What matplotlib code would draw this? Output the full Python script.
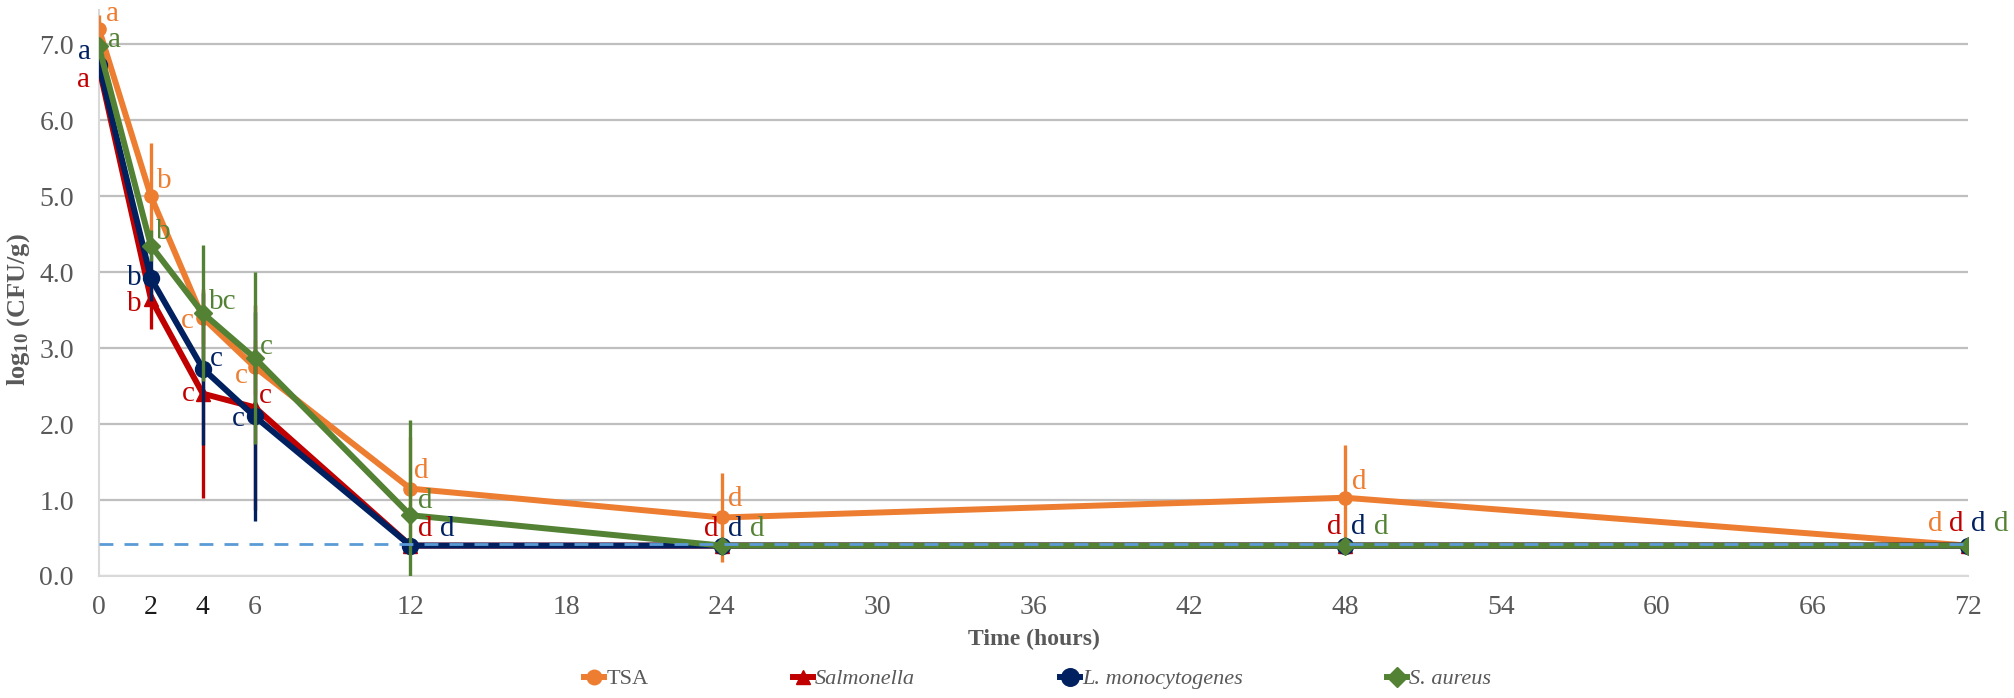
import matplotlib
matplotlib.use("Agg")
import matplotlib.pyplot as plt
from matplotlib.lines import Line2D

# ── Data ──────────────────────────────────────────────────────────────────────
hours = [0, 2, 4, 6, 12, 24, 48, 72]

tsa        = [7.20, 5.00, 3.40, 2.75, 1.15, 0.77, 1.03, 0.40]
salmonella = [6.70, 3.65, 2.40, 2.22, 0.40, 0.40, 0.40, 0.40]
listeria   = [6.73, 3.92, 2.73, 2.10, 0.40, 0.40, 0.40, 0.40]
aureus     = [6.97, 4.35, 3.46, 2.87, 0.80, 0.40, 0.40, 0.40]

tsa_err        = [0.18, 0.70, 0.35, 0.35, 0.68, 0.58, 0.70, 0.00]
salmonella_err = [0.10, 0.40, 1.38, 1.35, 0.00, 0.00, 0.00, 0.00]
listeria_err   = [0.10, 0.30, 1.00, 1.37, 0.00, 0.00, 0.00, 0.00]
aureus_err     = [0.05, 0.20, 0.90, 1.13, 1.25, 0.00, 0.00, 0.00]

tsa_letters        = ["a", "b", "c", "c", "d", "d", "d", "d"]
salmonella_letters = ["a", "b", "c", "c", "d", "d", "d", "d"]
listeria_letters   = ["a", "b", "c", "c", "d", "d", "d", "d"]
aureus_letters     = ["a", "b", "bc", "c", "d", "d", "d", "d"]

names = ["TSA", "Salmonella", "L. monocytogenes", "S. aureus"]
detection_limit = 0.42

x_ticks = [0, 2, 4, 6, 12, 18, 24, 30, 36, 42, 48, 54, 60, 66, 72]
y_ticks = [0, 1, 2, 3, 4, 5, 6, 7]

# ── Style ─────────────────────────────────────────────────────────────────────
ORANGE = "#ED7D31"
RED    = "#C00000"
NAVY   = "#002060"
GREEN  = "#548235"
DASH   = "#5B9BD5"
GRID   = "#BFBFBF"
AXIS   = "#D9D9D9"
TICK   = "#595959"
SERIF  = "Liberation Serif"

# letter offsets in pixels (dx, dy up) for each point
tsa_off        = [(14, 15), (13, 15), (-15, -3), (-13, -9), (11, 18), (13, 18), (14, 16), (-33, 22)]
salmonella_off = [(-15, -13), (-17, -5), (-14, 0), (11, 11), (15, 17), (-11, 17), (-11, 19), (-12, 22)]
listeria_off   = [(-14, 13), (-17, 0), (14, 10), (-16, -3), (37, 17), (13, 17), (13, 19), (10, 22)]
aureus_off     = [(16, 6), (12, 14), (20, 11), (12, 11), (15, 14), (35, 17), (36, 19), (33, 22)]

plt.rcParams["font.family"] = [SERIF, "DejaVu Serif"]
plt.rcParams["mathtext.default"] = "regular"

fig = plt.figure(figsize=(20.15, 6.98), dpi=100)
ax = fig.add_axes([0.0491, 0.1748, 0.9276, 0.8109])
ax.set_xlim(0, 72)
ax.set_ylim(0, 7.45)

series = [
    (tsa, tsa_err, tsa_letters, tsa_off, ORANGE, "o", 9.5),
    (salmonella, salmonella_err, salmonella_letters, salmonella_off, RED, "^", 9.5),
    (listeria, listeria_err, listeria_letters, listeria_off, NAVY, "o", 11.5),
    (aureus, aureus_err, aureus_letters, aureus_off, GREEN, "D", 9),
]

handles = []
for i, (vals, err, letters, offs, col, mk, ms) in enumerate(series):
    ax.errorbar(hours, vals, yerr=err, color=col, ecolor=col,
                elinewidth=2.4, capsize=0, lw=4.3, marker=mk, ms=ms,
                mec=col, mfc=col, zorder=3 + i)
    for x, y, lab, (dx, dy) in zip(hours, vals, letters, offs):
        ax.annotate(lab, (x, y), xytext=(dx, dy), textcoords="offset pixels",
                    ha="center", va="center", fontsize=21, color=col,
                    zorder=10, annotation_clip=False)
    handles.append(Line2D([0], [0], color=col, lw=4.3, marker=mk, ms=ms * 1.1,
                          mec=col, mfc=col))

ax.axhline(detection_limit, color=DASH, lw=2, ls=(0, (5, 4)), zorder=8)

# axes styling
ax.set_xticks(x_ticks)
ax.set_yticks(y_ticks)
ax.set_yticklabels([f"{v:.1f}" for v in y_ticks])
ax.tick_params(axis="both", length=0, labelsize=20, labelcolor=TICK)
ax.tick_params(axis="x", pad=14)
ax.tick_params(axis="y", pad=18)
for lab in ax.get_xticklabels():
    if lab.get_text() in ("2", "4"):
        lab.set_color("#1a1a1a")
ax.grid(axis="y", color=GRID, lw=1.6, zorder=0)
ax.set_axisbelow(True)
for side in ("top", "right"):
    ax.spines[side].set_visible(False)
for side in ("left", "bottom"):
    ax.spines[side].set_color(AXIS)
    ax.spines[side].set_linewidth(1.5)

ax.set_xlabel("Time (hours)", fontsize=17, fontweight="bold", color=TICK,
              labelpad=6)
ax.set_ylabel("log$_{10}$ (CFU/g)", fontsize=19, fontweight="bold",
              color=TICK)
ax.yaxis.set_label_coords(-0.036, 0.47)

leg = fig.legend(handles, names, loc="center", bbox_to_anchor=(0.515, 0.027),
                 ncol=4, frameon=False, fontsize=16, handlelength=0.9,
                 handletextpad=0.1, columnspacing=6.5)
for j, t in enumerate(leg.get_texts()):
    t.set_color(TICK)
    if j > 0:
        t.set_style("italic")

fig.savefig("out.png", dpi=100, facecolor="white")
